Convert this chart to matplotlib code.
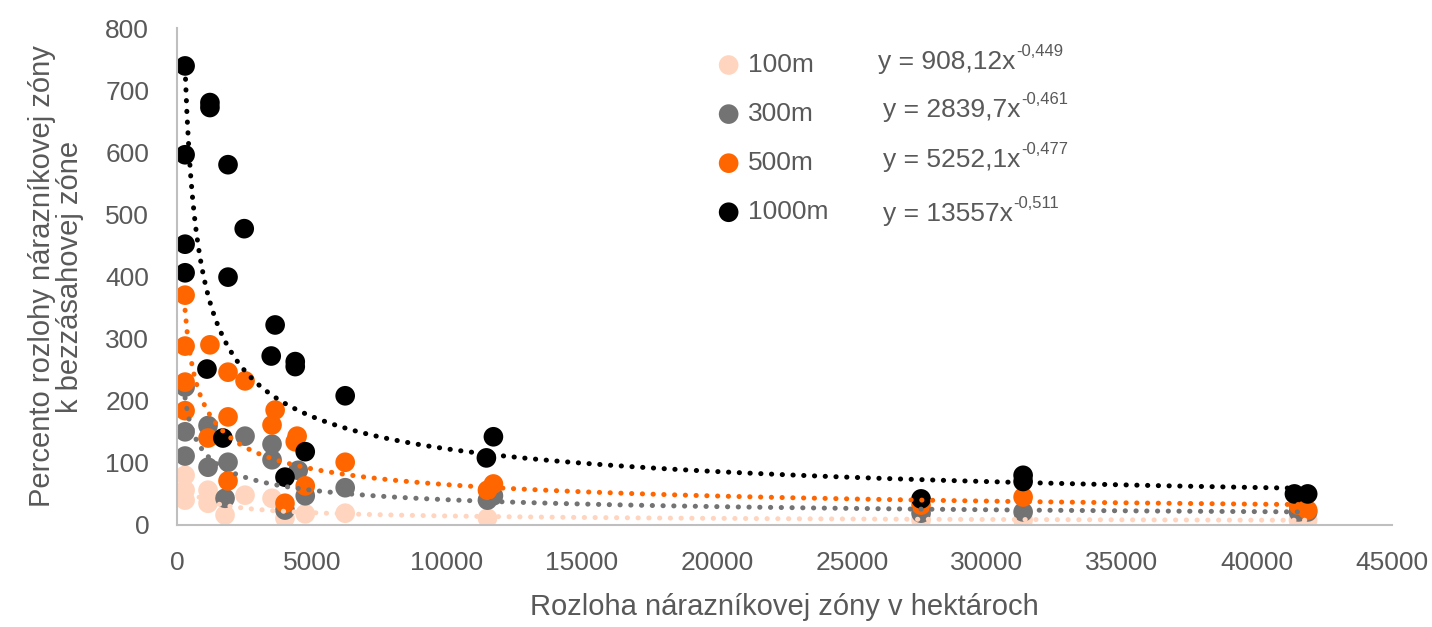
import numpy as np
import matplotlib
matplotlib.use('Agg')
import matplotlib.pyplot as plt

plt.rcParams['font.family'] = ['Liberation Sans', 'DejaVu Sans']

# údaje odčítané z grafu (rozloha v ha, percento)
x_100 = [300, 300, 300, 1150, 1150, 1780, 2520, 3520, 4000, 4750, 6230,
         11500, 27560, 31340, 41540, 41880]
y_100 = [80, 56, 40, 56, 35, 16, 48, 43, 11, 18, 19, 11, 8, 8, 8, 8]

x_300 = [300, 300, 300, 1150, 1150, 1890, 2520, 3520, 3520, 4490, 1780,
         4000, 4750, 6230, 11500, 11720, 27560, 31340, 41540, 41880]
y_300 = [222, 150, 111, 160, 93, 101, 143, 130, 105, 88, 43,
         24, 47, 60, 40, 47, 19, 21, 21, 21]

x_500 = [300, 300, 1220, 300, 300, 1890, 2520, 1890, 3635, 3520, 4450,
         4380, 1150, 1890, 4750, 4000, 6230, 11500, 11720, 27560, 31340,
         41540, 41880]
y_500 = [370, 288, 290, 230, 184, 246, 232, 174, 185, 161, 143,
         134, 140, 71, 63, 35, 101, 56, 66, 32, 45, 32, 24]

x_1000 = [300, 1220, 1220, 300, 1890, 2490, 300, 300, 1890, 3635, 3490,
          4380, 4380, 6230, 1110, 1700, 4750, 4000, 11460, 11720, 27560,
          31340, 31340, 41390, 41880]
y_1000 = [739, 680, 672, 596, 580, 477, 452, 406, 399, 322, 272,
          263, 255, 208, 251, 140, 118, 77, 108, 142, 42,
          80, 70, 50, 50]

labels = ['100m', '300m', '500m', '1000m']
coef_a = [908.12, 2839.7, 5252.1, 13557]
coef_b = [-0.449, -0.461, -0.477, -0.511]
eq_base = ['y = 908,12x', 'y = 2839,7x', 'y = 5252,1x', 'y = 13557x']
eq_exp = ['-0,449', '-0,461', '-0,477', '-0,511']

colors = ['#FFD5BF', '#737373', '#FF6600', '#000000']
txt_col = '#595959'

series = [(x_100, y_100), (x_300, y_300), (x_500, y_500), (x_1000, y_1000)]

fig = plt.figure(figsize=(14.32, 6.27), dpi=100)
ax = fig.add_axes([0.1236, 0.1627, 0.972 - 0.1236, 0.9553 - 0.1627])

handles = []
for (xs, ys), c, lab in zip(series, colors, labels):
    h = ax.scatter(xs, ys, s=200, color=c, edgecolors='none', zorder=2, label=lab)
    handles.append(h)

# mocninové trendy
for (xs, ys), c, a, b in zip(series, colors, coef_a, coef_b):
    xt = np.linspace(min(xs), max(xs), 600)
    ax.plot(xt, a * xt ** b, color=c, lw=3.6, linestyle=(0, (0.05, 2.1)),
            dash_capstyle='round', zorder=3)

ax.set_xlim(0, 45000)
ax.set_ylim(0, 800)
ax.set_xticks(np.arange(0, 45001, 5000))
ax.set_yticks(np.arange(0, 801, 100))
ax.tick_params(length=0, labelsize=19, labelcolor=txt_col)
ax.tick_params(axis='x', pad=19)
ax.tick_params(axis='y', pad=20)
for s in ['top', 'right']:
    ax.spines[s].set_visible(False)
for s in ['left', 'bottom']:
    ax.spines[s].set_color('#BFBFBF')
    ax.spines[s].set_linewidth(1.5)

ax.set_xlabel('Rozloha nárazníkovej zóny v hektároch', fontsize=21, color=txt_col, labelpad=13)
ax.set_ylabel('Percento rozlohy nárazníkovej zóny\nk bezzásahovej zóne', fontsize=21,
              color=txt_col, labelpad=15, linespacing=1.0)

leg = ax.legend(handles=handles, loc='upper left', bbox_to_anchor=(0.428, 0.987),
                frameon=False, fontsize=19, labelspacing=0.95, handletextpad=0.25,
                handlelength=1.0, markerscale=1.0, labelcolor=txt_col, borderaxespad=0.3)

# rovnice trendov
eq_y = [62, 110, 160, 214]
eq_x = [878, 883, 883, 883]
fig.canvas.draw()
r = fig.canvas.get_renderer()
for bx, by, base, ex in zip(eq_x, eq_y, eq_base, eq_exp):
    t = fig.text(bx / 1432, 1 - by / 627, base, fontsize=19, color=txt_col,
                 ha='left', va='center')
    bb = t.get_window_extent(r)
    fig.text(bb.x1 / 1432 + 0.0005, 1 - (by - 10) / 627, ex, fontsize=12, color=txt_col,
             ha='left', va='center')

fig.savefig('out.png', dpi=100)
